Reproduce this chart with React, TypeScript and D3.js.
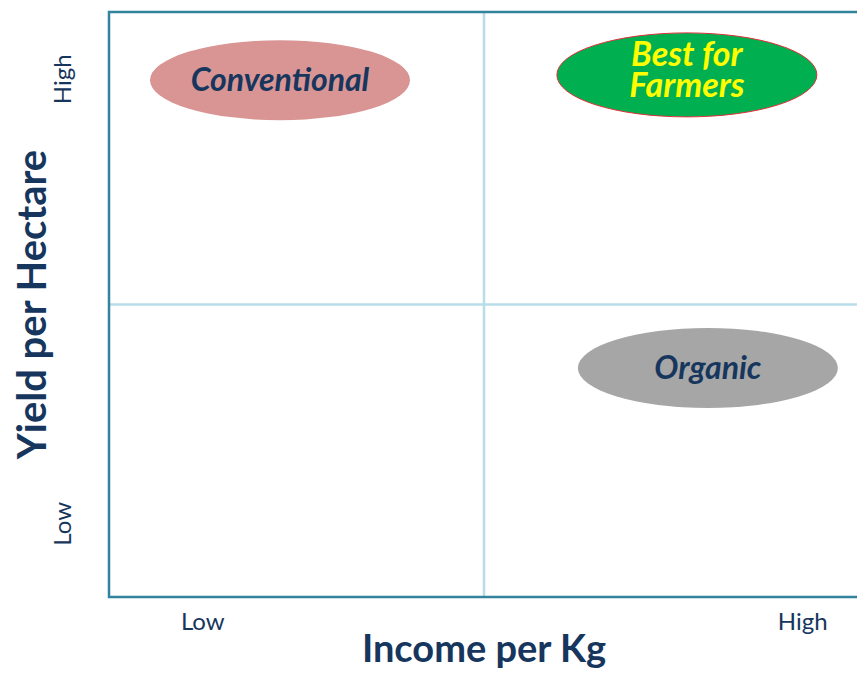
import React, { useEffect, useRef } from 'react'
import * as d3 from 'd3'

// quadrant chart: income per kg (x) vs yield per hectare (y), both on a 0..2 scale
const levels = ['Low', 'High']
const xTickPos = [0.25, 1.85]
const yTickPos = [0.25, 1.77]

const groups = ['Conventional', 'Best for Farmers', 'Organic']
const groupIncome = [0.456, 1.541, 1.597]
const groupYield = [1.767, 1.785, 0.783]
const groupFill = ['#D99594', '#00B050', '#A6A6A6']
const groupText = ['#17365D', '#FFFF00', '#17365D']

const W = 857
const H = 673
const FONT = 'Lato, "Open Sans", sans-serif'

function drawChart(svgEl: SVGSVGElement) {
    const svg = d3.select(svgEl)
    svg.selectAll('*').remove()

    const x = d3.scaleLinear().domain([0, 2]).range([109, 859])
    const y = d3.scaleLinear().domain([0, 2]).range([597, 12])

    // quadrant dividers
    svg.append('line')
        .attr('x1', x(1)).attr('x2', x(1))
        .attr('y1', y(2)).attr('y2', y(0))
        .attr('stroke', '#B7DDE8').attr('stroke-width', 2.5)
    svg.append('line')
        .attr('x1', x(0)).attr('x2', x(2))
        .attr('y1', y(1)).attr('y2', y(1))
        .attr('stroke', '#B7DDE8').attr('stroke-width', 2.5)

    // frame: left, top, bottom
    svg.append('path')
        .attr('d', `M${x(2)},${y(2)}H${x(0)}V${y(0)}H${x(2)}`)
        .attr('fill', 'none')
        .attr('stroke', '#31849B')
        .attr('stroke-width', 2.5)

    const data = groups.map((g, i) => ({
        name: g,
        income: groupIncome[i],
        yld: groupYield[i],
        fill: groupFill[i],
        text: groupText[i],
    }))

    const node = svg.selectAll('g.group')
        .data(data)
        .enter()
        .append('g')
        .attr('class', 'group')
        .attr('transform', d => `translate(${x(d.income)},${y(d.yld)})`)

    node.append('ellipse')
        .attr('rx', 130)
        .attr('ry', d => d.name === 'Best for Farmers' ? 42 : 40)
        .attr('fill', d => d.fill)
        .attr('stroke', d => d.name === 'Best for Farmers' ? '#E0303A' : 'none')
        .attr('stroke-width', 1)

    node.each(function (d) {
        const two = d.name === 'Best for Farmers'
        const lines = two ? ['Best for', 'Farmers'] : [d.name]
        const t = d3.select(this).append('text')
            .attr('text-anchor', 'middle')
            .attr('font-family', FONT)
            .attr('font-weight', 'bold')
            .attr('font-style', 'italic')
            .attr('font-size', two ? 34 : 32)
            .attr('fill', d.text)
        lines.forEach((ln, i) => {
            t.append('tspan')
                .attr('x', 0)
                .attr('y', two ? (i === 0 ? -9 : 22) : 11)
                .text(ln)
        })
    })

    // x tick labels
    svg.selectAll('text.xtick')
        .data(levels)
        .enter()
        .append('text')
        .attr('class', 'xtick')
        .attr('x', (d, i) => x(xTickPos[i]))
        .attr('y', 630)
        .attr('text-anchor', 'middle')
        .attr('font-family', FONT)
        .attr('font-size', 24)
        .attr('fill', '#17365D')
        .text(d => d)

    // y tick labels (rotated)
    svg.selectAll('text.ytick')
        .data(levels)
        .enter()
        .append('text')
        .attr('class', 'ytick')
        .attr('transform', (d, i) => `translate(71,${y(yTickPos[i])}) rotate(-90)`)
        .attr('text-anchor', 'middle')
        .attr('font-family', FONT)
        .attr('font-size', 24)
        .attr('fill', '#17365D')
        .text(d => d)

    // axis titles
    svg.append('text')
        .attr('x', x(1))
        .attr('y', 662)
        .attr('text-anchor', 'middle')
        .attr('font-family', FONT)
        .attr('font-weight', 'bold')
        .attr('font-size', 38)
        .attr('fill', '#17365D')
        .text('Income per Kg')

    svg.append('text')
        .attr('transform', `translate(46,${y(1)}) rotate(-90)`)
        .attr('text-anchor', 'middle')
        .attr('font-family', FONT)
        .attr('font-weight', 'bold')
        .attr('font-size', 40)
        .attr('fill', '#17365D')
        .text('Yield per Hectare')
}

export default function App() {
    const ref = useRef<SVGSVGElement>(null)

    useEffect(() => {
        if (ref.current) drawChart(ref.current)
    }, [])

    return (
        <svg ref={ref} width={W} height={H}
            style={{ position: 'absolute', left: 0, top: 0, background: '#fff' }} />
    )
}
